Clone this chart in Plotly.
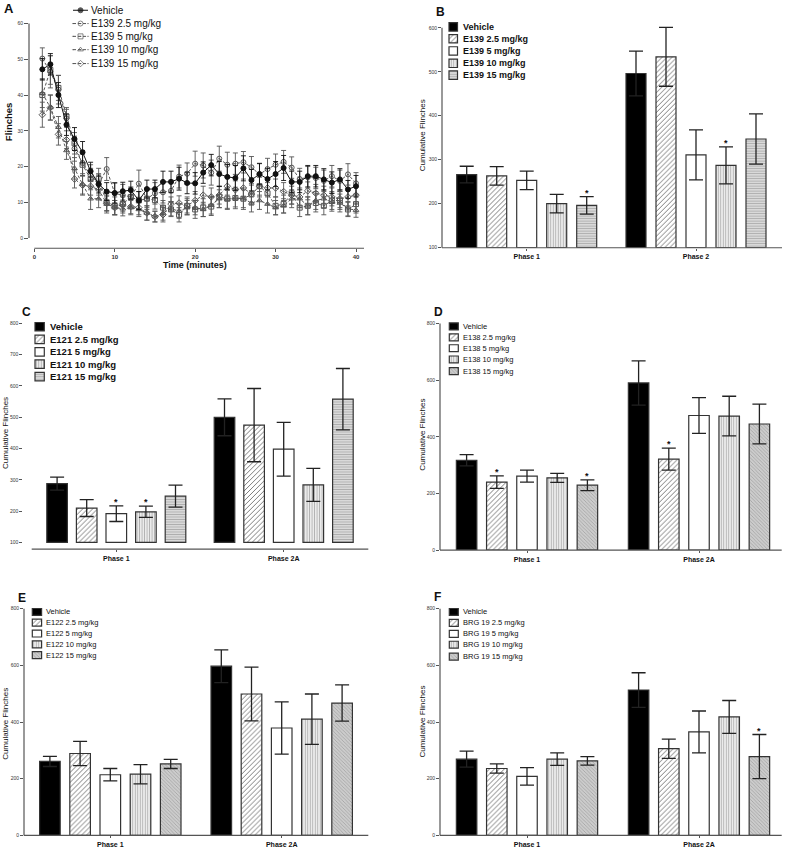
import plotly.graph_objects as go

W, H = 787, 849
FONT = "Liberation Sans, Arial, sans-serif"

# ---------------- Panel A data ----------------
minutes = list(range(1, 41))
a_labels = ["Vehicle", "E139 2.5 mg/kg", "E139 5 mg/kg", "E139 10 mg/kg", "E139 15 mg/kg"]
a_vehicle = [47.2, 48.6, 40.0, 31.7, 27.7, 24.0, 18.7, 15.1, 13.0, 12.6, 13.1, 13.4, 10.5, 13.7, 13.7, 15.7, 15.7, 16.6, 15.4, 15.3,
             18.3, 20.4, 17.9, 17.1, 16.8, 19.5, 16.2, 17.9, 16.5, 17.9, 19.6, 15.7, 15.7, 17.3, 17.3, 16.4, 15.5, 16.4, 13.6, 14.5]
a_e25 = [50.2, 46.5, 41.5, 33.5, 25.0, 21.0, 17.5, 15.0, 19.3, 12.5, 12.0, 11.5, 15.2, 11.0, 12.5, 12.8, 13.2, 17.2, 18.0, 20.8,
         20.3, 18.3, 22.2, 20.5, 20.8, 21.2, 19.8, 17.8, 19.3, 20.5, 21.3, 19.7, 16.5, 17.0, 16.8, 16.0, 17.3, 16.0, 17.8, 15.3]
a_e5 = [40.0, 47.0, 42.0, 34.0, 26.5, 20.5, 16.5, 16.5, 10.0, 9.0, 9.5, 11.5, 10.5, 11.0, 10.6, 8.5, 8.0, 6.5, 9.0, 8.0,
        8.5, 8.8, 11.5, 11.0, 11.2, 11.0, 12.2, 14.5, 12.5, 9.0, 9.5, 12.5, 8.5, 9.0, 9.8, 9.0, 10.5, 10.5, 8.0, 9.5]
a_e10 = [40.5, 36.5, 31.0, 24.5, 19.5, 15.0, 11.0, 11.0, 9.5, 8.5, 8.2, 8.5, 8.0, 7.0, 6.0, 7.0, 8.2, 7.5, 8.5, 8.5,
         8.0, 9.2, 11.0, 10.8, 11.2, 11.0, 9.8, 10.5, 9.5, 8.5, 9.0, 11.0, 11.0, 9.0, 10.5, 11.0, 10.0, 9.8, 8.2, 7.8]
a_e15 = [34.5, 36.5, 29.0, 27.5, 16.5, 14.8, 14.5, 13.5, 9.7, 8.5, 9.5, 8.8, 8.5, 7.0, 6.0, 6.5, 9.5, 9.8, 9.0, 10.5,
         12.0, 11.5, 12.0, 14.5, 13.5, 14.0, 12.3, 14.5, 14.0, 14.0, 13.0, 12.0, 11.5, 13.2, 12.5, 12.0, 11.5, 11.0, 11.5, 12.0]
a_err_vehicle = [3.0, 3.0, 3.5, 3.0, 3.2, 3.0, 2.5, 2.5, 2.5, 2.8, 2.5, 2.5, 2.5, 2.5, 2.5, 3.0, 3.0, 3.2, 3.0, 3.0,
                 3.0, 3.0, 3.5, 3.5, 3.5, 3.5, 3.0, 3.0, 3.0, 3.5, 3.5, 3.0, 3.0, 3.0, 3.0, 3.0, 3.0, 3.0, 2.5, 3.0]
a_err_e25 = [3.0, 4.5, 4.0, 2.5, 3.5, 3.5, 3.0, 3.0, 3.2, 3.0, 3.0, 2.8, 3.8, 3.0, 3.0, 3.0, 3.0, 3.2, 3.0, 3.5,
             3.5, 3.5, 3.5, 3.5, 3.0, 3.0, 3.0, 3.0, 3.0, 3.0, 3.2, 3.0, 3.0, 3.0, 3.0, 3.0, 3.0, 3.0, 3.0, 3.0]
a_err_e5 = [4.5, 4.0, 3.5, 2.5, 3.0, 3.0, 3.0, 3.0, 2.5, 2.5, 2.5, 2.5, 2.5, 2.5, 2.5, 2.0, 2.0, 2.0, 2.5, 2.5,
            2.5, 2.5, 3.0, 3.0, 3.0, 3.0, 3.0, 3.0, 3.0, 2.5, 2.5, 3.0, 2.5, 2.5, 2.5, 2.5, 2.5, 2.5, 2.0, 2.5]
a_err_e10 = [4.0, 3.5, 3.0, 2.5, 3.0, 3.0, 3.0, 2.5, 2.5, 2.0, 2.0, 2.0, 2.0, 2.0, 1.5, 2.0, 2.0, 2.0, 2.0, 2.0,
             2.0, 2.5, 2.5, 2.5, 2.5, 2.5, 2.5, 2.5, 2.5, 2.0, 2.0, 2.5, 2.5, 2.5, 2.5, 2.5, 2.5, 2.5, 2.0, 2.0]
a_err_e15 = [3.5, 3.5, 3.0, 2.5, 2.5, 2.5, 2.5, 2.5, 2.0, 2.0, 2.0, 2.0, 2.0, 2.0, 1.5, 2.0, 2.0, 2.0, 2.0, 2.5,
             2.5, 2.5, 2.5, 2.5, 2.5, 2.5, 2.5, 2.5, 2.5, 2.5, 2.5, 2.5, 2.5, 2.5, 2.5, 2.5, 2.5, 2.5, 2.5, 2.5]
a_ticks_x = [0, 10, 20, 30, 40]
a_ticks_y = [0, 10, 20, 30, 40, 50, 60]

# ---------------- Bar panels data ----------------
b_labels = ["Vehicle", "E139 2.5 mg/kg", "E139 5 mg/kg", "E139 10 mg/kg", "E139 15 mg/kg"]
b_cats = ["Phase 1", "Phase 2"]
b_p1 = [266, 263, 253, 200, 196]
b_p1_err = [19, 21, 21, 21, 20]
b_p2 = [496, 534, 311, 287, 347]
b_p2_err = [51, 67, 57, 42, 57]
b_p1_star = [0, 0, 0, 0, 1]
b_p2_star = [0, 0, 0, 1, 0]
b_ticks = [100, 200, 300, 400, 500, 600]

c_labels = ["Vehicle", "E121 2.5 mg/kg", "E121 5 mg/kg", "E121 10 mg/kg", "E121 15 mg/kg"]
c_cats = ["Phase 1", "Phase 2A"]
c_p1 = [288, 210, 192, 198, 248]
c_p1_err = [21, 27, 25, 18, 35]
c_p2 = [500, 475, 398, 284, 558]
c_p2_err = [59, 117, 86, 53, 98]
c_p1_star = [0, 0, 1, 1, 0]
c_p2_star = [0, 0, 0, 0, 0]
c_ticks = [100, 200, 300, 400, 500, 600, 700, 800]

d_labels = ["Vehicle", "E138 2.5 mg/kg", "E138 5 mg/kg", "E138 10 mg/kg", "E138 15 mg/kg"]
d_cats = ["Phase 1", "Phase 2A"]
d_p1 = [317, 240, 261, 255, 229]
d_p1_err = [20, 22, 21, 16, 19]
d_p2 = [590, 321, 475, 473, 445]
d_p2_err = [78, 39, 63, 70, 70]
d_p1_star = [0, 1, 0, 0, 1]
d_p2_star = [0, 1, 0, 0, 0]

e_labels = ["Vehicle", "E122 2.5 mg/kg", "E122 5 mg/kg", "E122 10 mg/kg", "E122 15 mg/kg"]
e_cats = ["Phase 1", "Phase 2A"]
e_p1 = [261, 289, 214, 216, 252]
e_p1_err = [18, 43, 22, 34, 16]
e_p2 = [597, 499, 379, 410, 467]
e_p2_err = [58, 95, 92, 89, 64]
e_p1_star = [0, 0, 0, 0, 0]
e_p2_star = [0, 0, 0, 0, 0]

f_labels = ["Vehicle", "BRG 19 2.5 mg/kg", "BRG 19 5 mg/kg", "BRG 19 10 mg/kg", "BRG 19 15 mg/kg"]
f_cats = ["Phase 1", "Phase 2A"]
f_p1 = [269, 236, 208, 269, 263]
f_p1_err = [28, 16, 31, 22, 15]
f_p2 = [513, 306, 365, 418, 278]
f_p2_err = [61, 34, 74, 58, 78]
f_p1_star = [0, 0, 0, 0, 0]
f_p2_star = [0, 0, 0, 0, 1]
def_ticks = [0, 200, 400, 600, 800]

# ---------------- helpers ----------------
def px(x):
    return x / W


def py(y):
    return 1 - y / H


fig = go.Figure()
layout = dict(width=W, height=H, margin=dict(l=0, r=0, t=0, b=0), paper_bgcolor="white",
              plot_bgcolor="rgba(0,0,0,0)", showlegend=False, barmode="overlay",
              font=dict(family=FONT))
shapes = []
annotations = []


def ann(text, x, y, size, bold=False, anchor="left", angle=0, color="#111"):
    annotations.append(dict(text=text, x=px(x), y=py(y), xref="paper", yref="paper", showarrow=False,
                            xanchor=anchor, yanchor="middle", textangle=angle, borderpad=0,
                            font=dict(family=FONT, size=size, color=color,
                                      weight="bold" if bold else "normal")))


def line(x0, y0, x1, y1, color="#555", w=1.2):
    shapes.append(dict(type="line", xref="paper", yref="paper", x0=px(x0), y0=py(y0), x1=px(x1), y1=py(y1),
                       line=dict(color=color, width=w)))


def axname(idx, letter):
    return f"{letter}axis" if idx == 1 else f"{letter}axis{idx}"


def ref(idx, letter):
    return letter if idx == 1 else f"{letter}{idx}"


def yrange_from(val_a, px_a, val_b, px_b, top_px, bot_px):
    s = (px_b - px_a) / (val_a - val_b)
    return [val_b - (bot_px - px_b) / s, val_a + (px_a - top_px) / s]


TICKFONT = dict(family=FONT, size=5, color="#333")

# ---------------- Panel A ----------------
ax_x0, ax_x1, x0px, x40px = 29, 364, 34.3, 356.0
sx = (x40px - x0px) / 40
layout["xaxis"] = dict(domain=[px(ax_x0), px(ax_x1)],
                       range=[-(x0px - ax_x0) / sx, 40 + (ax_x1 - x40px) / sx],
                       tickvals=a_ticks_x, ticks="outside", ticklen=3, tickcolor="#555", showline=False,
                       showgrid=False, zeroline=False, anchor="y",
                       tickfont=dict(family=FONT, size=6, color="#333", weight="bold"))
layout["yaxis"] = dict(domain=[py(247), py(20.7)], range=yrange_from(60, 20.7, 0, 236.7, 20.7, 247),
                       tickvals=a_ticks_y, ticks="outside", ticklen=4, tickcolor="#555", showline=False,
                       showgrid=False, zeroline=False, anchor="x", tickfont=TICKFONT)
line(29, 20.7, 29, 236.7)
line(34.3, 247, 364, 247)

a_series = [a_vehicle, a_e25, a_e5, a_e10, a_e15]
a_errs = [a_err_vehicle, a_err_e25, a_err_e5, a_err_e10, a_err_e15]
a_symbols = ["circle", "circle-open-dot", "square-open-dot", "triangle-up-open-dot", "diamond-open-dot"]
a_colors = ["#111111", "#555555", "#555555", "#555555", "#555555"]
a_dash = ["solid", "3px,2px", "3px,2px", "3px,2px", "3px,2px"]
for k in range(4, -1, -1):
    fig.add_trace(go.Scatter(
        x=minutes, y=a_series[k], mode="lines+markers",
        line=dict(color=a_colors[k], width=1, dash=a_dash[k]),
        marker=dict(symbol=a_symbols[k], size=5, color=a_colors[k], line=dict(width=1, color=a_colors[k])),
        error_y=dict(type="data", array=a_errs[k], visible=True, color=a_colors[k], thickness=0.9, width=2.5),
        xaxis="x", yaxis="y", name=a_labels[k]))

ann("A", 3, 6, 13, bold=True)
ann("Flinches", 8, 120, 9.5, bold=True, anchor="center", angle=-90)
ann("Time (minutes)", 195, 264, 9, bold=True, anchor="center")

# ---------------- Bar panels ----------------
STY_2 = dict(color="white", pattern=dict(shape="/", fgcolor="#444", bgcolor="white", size=3.5, solidity=0.2))
STY_10 = dict(color="#e8e8e8", pattern=dict(shape="|", fgcolor="#a8a8a8", bgcolor="#ebebeb", size=2.5, solidity=0.3))
styles_h = [dict(color="black", pattern=None), STY_2, dict(color="white", pattern=None), STY_10,
            dict(color="#d6d6d6", pattern=dict(shape="-", fgcolor="#a8a8a8", bgcolor="#d9d9d9", size=2.5, solidity=0.3))]
styles_d = [dict(color="black", pattern=None), STY_2, dict(color="white", pattern=None), STY_10,
            dict(color="#c8c8c8", pattern=dict(shape="\\", fgcolor="#a0a0a0", bgcolor="#cccccc", size=2.5, solidity=0.3))]


def marker_for(st):
    m = dict(color=st["color"], line=dict(color="#333", width=1.2))
    if st["pattern"] is not None:
        p = dict(st["pattern"])
        p["fillmode"] = "replace"
        m["pattern"] = p
    return m


panels = [
    dict(idx=2, letter="B", lpos=(435, 9), xl=442, xr=782, ytop=22, ybot=246.5, ya=(600, 25), yb=(100, 246.3),
         c0=526.7, c1=696, slot=30, bw=20, base=100, ticks=b_ticks, cats=b_cats, labels=b_labels,
         p1=b_p1, e1=b_p1_err, p2=b_p2, e2=b_p2_err, s1=b_p1_star, s2=b_p2_star, styles=styles_h,
         yline=(442, 25, 246.5), xline=(442, 782, 246.5), ytitle=(422.7, 133.5),
         leg=dict(sx=449, sw=8.5, sh=8.5, tx=462, rows=[24, 36, 48.3, 60.7, 72.7], size=9, bold=True)),
    dict(idx=3, letter="C", lpos=(21, 311), xl=23.3, xr=368.3, ytop=320, ybot=550, ya=(800, 322.7), yb=(100, 543.3),
         c0=116.3, c1=283.7, slot=29.6, bw=20.6, base=100, ticks=c_ticks, cats=c_cats, labels=c_labels,
         p1=c_p1, e1=c_p1_err, p2=c_p2, e2=c_p2_err, s1=c_p1_star, s2=c_p2_star, styles=styles_h,
         yline=None, xline=(31.7, 368.3, 550), ytitle=(6, 433),
         leg=dict(sx=35, sw=9.3, sh=8.5, tx=49, rows=[326, 338.7, 351.3, 363.7, 376.3], size=9.5, bold=True)),
    dict(idx=4, letter="D", lpos=(433, 311), xl=440, xr=781.7, ytop=320, ybot=551, ya=(800, 322.7), yb=(0, 551),
         c0=527, c1=699, slot=30.2, bw=20.5, base=0, ticks=def_ticks, cats=d_cats, labels=d_labels,
         p1=d_p1, e1=d_p1_err, p2=d_p2, e2=d_p2_err, s1=d_p1_star, s2=d_p2_star, styles=styles_d,
         yline=(440, 322.7, 551), xline=(440, 781.7, 551), ytitle=(422.7, 435),
         leg=dict(sx=449.3, sw=9, sh=7, tx=461.5, rows=[325.7, 336.7, 347.7, 359, 370.7], size=7.5, bold=False)),
    dict(idx=5, letter="E", lpos=(17, 599), xl=24, xr=368.3, ytop=607, ybot=838.3, ya=(800, 610), yb=(0, 838.3),
         c0=110.3, c1=281.7, slot=30.2, bw=20.6, base=0, ticks=def_ticks, cats=e_cats, labels=e_labels,
         p1=e_p1, e1=e_p1_err, p2=e_p2, e2=e_p2_err, s1=e_p1_star, s2=e_p2_star, styles=styles_d,
         yline=(24, 610, 838.3), xline=(24, 368.3, 838.3), ytitle=(6, 726),
         leg=dict(sx=32.3, sw=9.3, sh=7, tx=45.2, rows=[613.3, 624, 635, 646, 656.7], size=7.5, bold=False)),
    dict(idx=6, letter="F", lpos=(433, 598), xl=440, xr=781.7, ytop=607, ybot=838.3, ya=(800, 610), yb=(0, 838.3),
         c0=527, c1=699, slot=30.2, bw=20.5, base=0, ticks=def_ticks, cats=f_cats, labels=f_labels,
         p1=f_p1, e1=f_p1_err, p2=f_p2, e2=f_p2_err, s1=f_p1_star, s2=f_p2_star, styles=styles_d,
         yline=(440, 610, 838.3), xline=(440, 781.7, 838.3), ytitle=(422.7, 724),
         leg=dict(sx=449.3, sw=9, sh=7, tx=462.2, rows=[613.3, 624.3, 635.3, 646.3, 658.3], size=7.5, bold=False)),
]

LEG = 7  # overlay pixel axis for legend swatches
layout[axname(LEG, "x")] = dict(domain=[0, 1], range=[0, W], visible=False, anchor=ref(LEG, "y"), fixedrange=True)
layout[axname(LEG, "y")] = dict(domain=[0, 1], range=[H, 0], visible=False, anchor=ref(LEG, "x"), fixedrange=True)

for P in panels:
    i = P["idx"]
    unit = P["c1"] - P["c0"]
    slot_u = P["slot"] / unit
    w_u = P["bw"] / unit
    layout[axname(i, "x")] = dict(domain=[px(P["xl"]), px(P["xr"])],
                                  range=[(P["xl"] - P["c0"]) / unit, (P["xr"] - P["c0"]) / unit],
                                  tickvals=[0, 1], ticktext=P["cats"], ticks="outside", ticklen=2, tickcolor="#555",
                                  showline=False, showgrid=False, zeroline=False, anchor=ref(i, "y"),
                                  tickfont=dict(family=FONT, size=7, color="#111", weight="bold"))
    layout[axname(i, "y")] = dict(domain=[py(P["ybot"]), py(P["ytop"])],
                                  range=yrange_from(P["ya"][0], P["ya"][1], P["yb"][0], P["yb"][1], P["ytop"], P["ybot"]),
                                  tickvals=P["ticks"], ticks="outside", ticklen=3, tickcolor="#555",
                                  showline=False, showgrid=False, zeroline=False, anchor=ref(i, "x"),
                                  tickfont=TICKFONT)
    if P["yline"]:
        x, y0, y1 = P["yline"]
        line(x, y0, x, y1)
    xa, xb, yy = P["xline"]
    line(xa, yy, xb, yy)

    base = P["base"]
    for k in range(5):
        fig.add_trace(go.Bar(
            x=[0, 1], y=[P["p1"][k] - base, P["p2"][k] - base], base=base,
            offset=(k - 2) * slot_u - w_u / 2, width=w_u,
            marker=marker_for(P["styles"][k]),
            error_y=dict(type="data", array=[P["e1"][k], P["e2"][k]], visible=True, color="#222",
                         thickness=1.3, width=7),
            xaxis=ref(i, "x"), yaxis=ref(i, "y"), name=P["labels"][k]))
        for cat, vals, errs, stars in ((0, P["p1"], P["e1"], P["s1"]), (1, P["p2"], P["e2"], P["s2"])):
            if stars[k]:
                annotations.append(dict(text="*", x=cat + (k - 2) * slot_u, y=vals[k] + errs[k],
                                        xref=ref(i, "x"), yref=ref(i, "y"), showarrow=False,
                                        yanchor="middle", yshift=4,
                                        font=dict(family=FONT, size=9, color="#111", weight="bold")))

    # legend
    L = P["leg"]
    for k in range(5):
        fig.add_trace(go.Bar(
            orientation="h", y=[L["rows"][k]], x=[L["sw"]], base=[L["sx"]], width=[L["sh"]],
            marker=marker_for(P["styles"][k]), xaxis=ref(LEG, "x"), yaxis=ref(LEG, "y"),
            name=P["labels"][k], hoverinfo="skip"))
        ann(P["labels"][k], L["tx"], L["rows"][k], L["size"], bold=L["bold"])

    ann(P["letter"], P["lpos"][0], P["lpos"][1], 12, bold=True)
    ann("Cumulative Flinches", P["ytitle"][0], P["ytitle"][1], 8, anchor="center", angle=-90)

# Panel A legend (line + marker samples in pixel axis)
a_rows = [7.3, 20.7, 33.6, 47.0, 61.0]
for k in range(5):
    fig.add_trace(go.Scatter(
        x=[73, 80.5, 88], y=[a_rows[k]] * 3, mode="lines+markers",
        line=dict(color=a_colors[k], width=1, dash=a_dash[k]),
        marker=dict(symbol=a_symbols[k], size=[0, 5, 0], color=a_colors[k], line=dict(width=1, color=a_colors[k])),
        xaxis=ref(LEG, "x"), yaxis=ref(LEG, "y"), hoverinfo="skip"))
    ann(a_labels[k], 90, a_rows[k], 10)

layout["shapes"] = shapes
layout["annotations"] = annotations
fig.update_layout(**layout)
# remove the browser's default 8px body margin so the figure sits at the page origin
fig.write_html("out.html", config={"displayModeBar": False},
               post_script="document.body.style.margin='0px';")
